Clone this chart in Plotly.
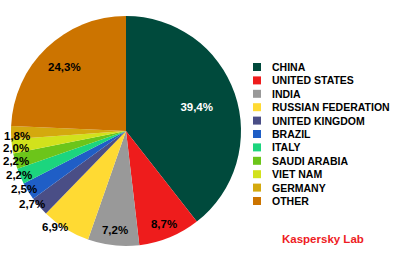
import numpy as np
import plotly.graph_objects as go

countries = ["CHINA", "UNITED STATES", "INDIA", "RUSSIAN FEDERATION", "UNITED KINGDOM",
             "BRAZIL", "ITALY", "SAUDI ARABIA", "VIET NAM", "GERMANY", "OTHER"]
shares = [39.4, 8.7, 7.2, 6.9, 2.7, 2.5, 2.2, 2.2, 2.0, 1.8, 24.3]
colors = ["#004A3C", "#EE1C1C", "#999999", "#FFDA33", "#4A4E86", "#1F5EC6",
          "#1CD57E", "#6CC51A", "#D2E21C", "#D4A90E", "#CC7400"]
text_colors = ["white"] + ["black"] * 10

# label placement: inner radius (fraction) of the transparent ring that carries an
# inside label, or None for a label hung outside beside the slice
label_ring = [0.3, 0.74, 0.74, None, None, None, None, None, None, None, 0.55]

FONT = "Arial, Liberation Sans, sans-serif"
labels_txt = ["<b>" + f"{v:.1f}%".replace(".", ",") + "</b>" for v in shares]
clear = ["rgba(0,0,0,0)"] * len(shares)

W, H = 400, 263
CX, CY, R = 126, 131, 115      # pie centre / radius in pixels


def dom(r):
    return dict(x=[(CX - r) / W, (CX + r) / W], y=[1 - (CY + r) / H, 1 - (CY - r) / H])


common = dict(labels=countries, values=shares, sort=False, direction="clockwise",
              rotation=0, showlegend=False, domain=dom(R), automargin=False)

fig = go.Figure()
# visible pie
fig.add_trace(go.Pie(**common, marker=dict(colors=colors, line=dict(width=0)),
                     textinfo="none", hoverinfo="label+percent"))
# inside labels: transparent rings push the text outward in the slice
for hole in sorted({h for h in label_ring if h is not None}):
    fig.add_trace(go.Pie(**common, marker=dict(colors=clear, line=dict(width=0)),
                         hole=hole, text=labels_txt, textinfo="text",
                         textposition=["inside" if h == hole else "none" for h in label_ring],
                         insidetextorientation="horizontal",
                         insidetextfont=dict(family=FONT, size=11.5, color=text_colors),
                         hoverinfo="skip"))

annotations = []
# labels of the small slices, hung from the slice's mid-angle near the rim
vals = np.array(shares)
mid_frac = (np.cumsum(vals) - vals / 2) / vals.sum()
theta = 2 * np.pi * mid_frac
for txt, th, h in zip(labels_txt, theta, label_ring):
    if h is not None:
        continue
    rho = R - 20 + 16 * abs(np.cos(th))
    px = CX + rho * np.sin(th)
    py = CY - rho * np.cos(th) - 3
    annotations.append(dict(text=txt, x=px / W, y=1 - py / H, xref="paper", yref="paper",
                            xanchor="right", yanchor="top", showarrow=False, borderpad=0,
                            font=dict(family=FONT, size=11.5, color="black")))

# legend drawn as squares + labels, one row per category
shapes = []
leg_x0, leg_y0, leg_dy, sq = 253, 67, 13.4, 8
for i, (name, col) in enumerate(zip(countries, colors)):
    yc = leg_y0 + i * leg_dy
    shapes.append(dict(type="rect", xref="paper", yref="paper",
                       x0=leg_x0 / W, x1=(leg_x0 + sq) / W,
                       y0=1 - (yc + sq / 2) / H, y1=1 - (yc - sq / 2) / H,
                       fillcolor=col, line=dict(width=0)))
    annotations.append(dict(text="<b>" + name + "</b>", x=270 / W, y=1 - yc / H,
                            xref="paper", yref="paper", xanchor="left", yanchor="middle",
                            showarrow=False,
                            font=dict(family=FONT, size=10.5, color="black")))

annotations.append(dict(text="<b>Kaspersky Lab</b>", x=280 / W, y=1 - 239 / H,
                        xref="paper", yref="paper", xanchor="left", yanchor="middle",
                        showarrow=False,
                        font=dict(family=FONT, size=11.5, color="#EE1C24")))

fig.update_layout(
    width=W, height=H, margin=dict(l=0, r=0, t=0, b=0, pad=0, autoexpand=False),
    paper_bgcolor="white", plot_bgcolor="white",
    showlegend=False,
    shapes=shapes, annotations=annotations,
)

fig.write_html("out.html")
